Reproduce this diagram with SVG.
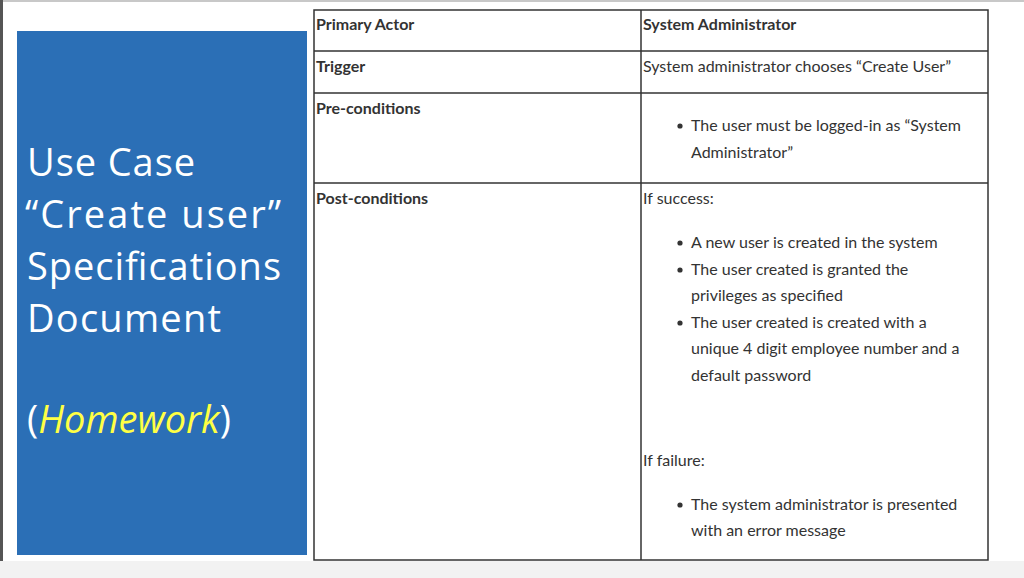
<svg xmlns="http://www.w3.org/2000/svg" width="1024" height="578" viewBox="0 0 1024 578">
<style>
.t{font-family:Lato,"Open Sans",sans-serif;font-size:16px;fill:#333}
.b{font-weight:bold}
.h{font-family:"Open Sans",Lato,sans-serif;font-size:38px;fill:#fff}
.ln{stroke:#333;stroke-width:1.5;fill:none}
</style>
<rect width="1024" height="578" fill="#fff"/>
<rect x="0" y="561" width="1024" height="17" fill="#f2f2f2"/>
<rect x="0" y="0" width="1024" height="2" fill="#c8c8c8"/>
<rect x="0" y="0" width="3" height="561" fill="#555"/>
<g id="title">
<rect x="17" y="31" width="290" height="524" fill="#2b6fb6"/>
<text class="h" x="27" y="176" textLength="168">Use Case</text>
<text class="h" x="25" y="228" textLength="256">“Create user”</text>
<text class="h" x="27" y="280" textLength="254">Specifications</text>
<text class="h" x="27" y="332" textLength="194">Document</text>
<text class="h" x="27" y="433">(<tspan fill="#ffff44" font-style="italic">Homework</tspan>)</text>
</g>
<g id="table">
<rect class="ln" x="314" y="10" width="674" height="550"/>
<line class="ln" x1="641" y1="10" x2="641" y2="560"/>
<line class="ln" x1="314" y1="51" x2="988" y2="51"/>
<line class="ln" x1="314" y1="93" x2="988" y2="93"/>
<line class="ln" x1="314" y1="183" x2="988" y2="183"/>
<text class="t b" x="316" y="30">Primary Actor</text>
<text class="t b" x="643" y="30">System Administrator</text>
<text class="t b" x="316" y="72">Trigger</text>
<text class="t" x="643" y="72">System administrator chooses “Create User”</text>
<text class="t b" x="316" y="114">Pre-conditions</text>
<text class="t" x="691" y="131">The user must be logged-in as “System</text>
<text class="t" x="691" y="158">Administrator”</text>
<text class="t b" x="316" y="204">Post-conditions</text>
<text class="t" x="643" y="204">If success:</text>
<text class="t" x="691" y="248">A new user is created in the system</text>
<text class="t" x="691" y="275">The user created is granted the</text>
<text class="t" x="691" y="301">privileges as specified</text>
<text class="t" x="691" y="328">The user created is created with a</text>
<text class="t" x="691" y="354">unique 4 digit employee number and a</text>
<text class="t" x="691" y="381">default password</text>
<text class="t" x="643" y="466">If failure:</text>
<text class="t" x="691" y="510">The system administrator is presented</text>
<text class="t" x="691" y="536">with an error message</text>
<g fill="#333"><circle cx="680" cy="126" r="2.6"/><circle cx="680" cy="243" r="2.6"/><circle cx="680" cy="270" r="2.6"/><circle cx="680" cy="323" r="2.6"/><circle cx="680" cy="505" r="2.6"/></g>
</g>
</svg>
